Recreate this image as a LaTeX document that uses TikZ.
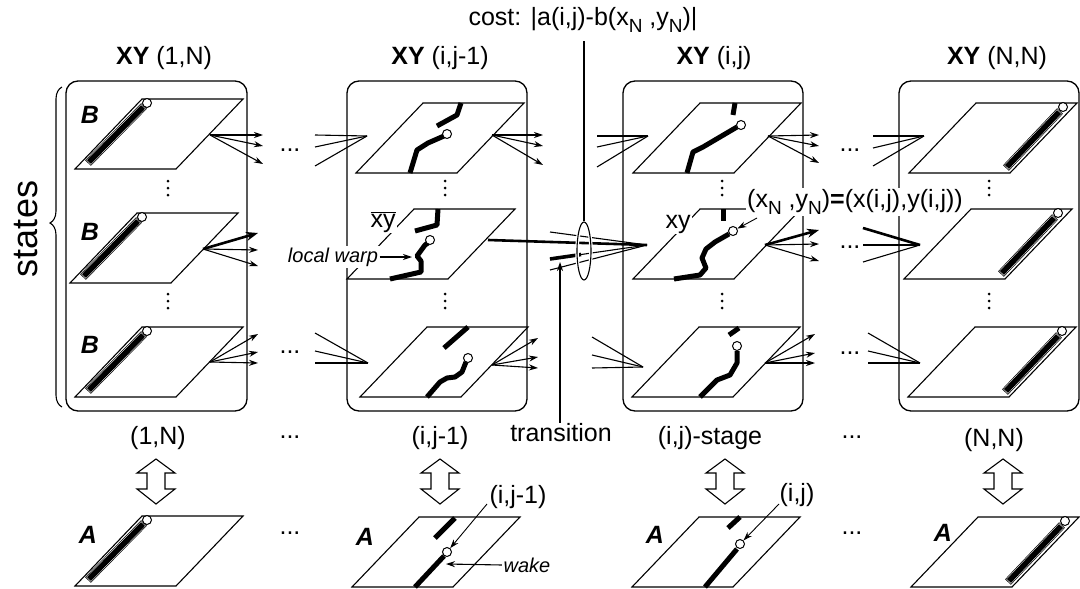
\documentclass[tikz,border=0pt]{standalone}
\usepackage{fontspec}
\setmainfont{Liberation Sans}
\usetikzlibrary{arrows.meta,decorations.pathreplacing,shapes.geometric,calc}
\newcommand\sbN{\raisebox{-0.28em}{\fontsize{19}{19}\selectfont N}}
\newcommand\plane[3]{\draw[pl] (#2,#3) coordinate (#1) -- ++(101,0) -- ++(67,-70) -- ++(-101,0) -- cycle;}
\newcommand\barline[2]{%
  \draw[line width=8pt,line cap=butt] (#1) -- (#2);
  \draw[line width=6.6pt,white,line cap=butt,shorten <=0.8pt,shorten >=0.8pt] (#1) -- (#2);
  \draw[line width=5.6pt,line cap=butt,shorten <=1.4pt,shorten >=1.4pt] (#1) -- (#2);}
\newcommand\lbar[3]{\barline{#2+13,#3-6}{#2+69,#3-63}\node[endc] (#1) at (#2+72,#3-66) {};}
\newcommand\rbar[3]{\barline{#2+97,#3-5}{#2+151,#3-62}\node[endc] (#1) at (#2+154,#3-66) {};}
\newcommand\vdts[2]{\foreach \k in {0,7,14}{\fill (#1,#2+\k) circle[radius=1.5pt];}}
\newcommand\fanout[7]{%
  \coordinate (#1o) at (#2,#3);
  \coordinate (#1a) at (#4,#5);\coordinate (#1b) at (#4,#6);\coordinate (#1c) at (#4,#7);
  \draw[fa] (#1o) -- (#1a);\draw[fa] (#1o) -- (#1b);\draw[fa] (#1o) -- (#1c);}
\newcommand\fanoutT[7]{%
  \coordinate (#1o) at (#2,#3);
  \coordinate (#1a) at (#4,#5);\coordinate (#1b) at (#4,#6);\coordinate (#1c) at (#4,#7);
  \draw[fat] (#1o) -- (#1a);\draw[fa] (#1o) -- (#1b);\draw[fa] (#1o) -- (#1c);}
\newcommand\fanin[7]{%
  \coordinate (#1o) at (#2,#3);
  \coordinate (#1a) at (#4,#5);\coordinate (#1b) at (#4,#6);\coordinate (#1c) at (#4,#7);
  \draw[fi] (#1a) -- (#1o);\draw[fi] (#1b) -- (#1o);\draw[fi] (#1c) -- (#1o);}
\newcommand\dblarrow[1]{%
  \draw[line width=1.1pt,fill=white,line join=miter] (#1,459) -- (#1+19,473) -- (#1+9,473) -- (#1+9,489) -- (#1+19,489) -- (#1,504) -- (#1-19,489) -- (#1-9,489) -- (#1-9,473) -- (#1-19,473) -- cycle;}
\begin{document}
\begin{tikzpicture}[x=1pt,y=-1pt,
  box/.style={draw,line width=1.3pt,rounded corners=12pt},
  pl/.style={draw,line width=1.1pt,fill=white,line join=miter},
  trk/.style={line width=5pt,line cap=butt,line join=round},
  endc/.style={circle,draw,fill=white,line width=1pt,minimum size=9pt,inner sep=0pt},
  fa/.style={line width=1.1pt,-{Stealth[length=9pt,width=6pt]}},
  fat/.style={line width=2.6pt,-{Stealth[length=12pt,width=9pt]}},
  fi/.style={line width=1.1pt},
  lbl/.style={font=\fontsize{25}{28}\selectfont,inner sep=1pt},
  ital/.style={font=\fontsize{20}{24}\selectfont\itshape,inner sep=1.5pt,fill=white},
  bi/.style={font=\fontsize{25}{28}\selectfont\bfseries\itshape,inner sep=1pt},
  dts/.style={font=\fontsize{25}{28}\selectfont,inner sep=0pt}]
\useasboundingbox (0,0) rectangle (1080,589);
% column boxes
\draw[box] (66,81) rectangle (247,411);
\draw[box] (347,81) rectangle (527,411);
\draw[box] (623,81) rectangle (803,411);
\draw[box] (899,81) rectangle (1079,411);
% titles
\node[lbl] (t1) at (164,58) {\textbf{XY} (1,N)};
\node[lbl] (t2) at (440,58) {\textbf{XY} (i,j-1)};
\node[lbl] (t3) at (714,58) {\textbf{XY} (i,j)};
\node[lbl] (t4) at (997,58) {\textbf{XY} (N,N)};
% brace and states
\draw[line width=1.1pt,decorate,decoration={brace,amplitude=12pt,aspect=0.575}] (62,407) -- (62,87);
\node[rotate=90,font=\fontsize{36}{40}\selectfont,inner sep=0pt] (states) at (26,229) {states};
% planes
\plane{p11}{75}{169}\plane{p12}{70}{283}\plane{p13}{75}{397}
\plane{p21}{356}{173}\plane{p22}{347}{279}\plane{p23}{360}{397}
\plane{p31}{633}{173}\plane{p32}{633}{279}\plane{p33}{632}{397}
\plane{p41}{909}{173}\plane{p42}{904}{279}\plane{p43}{908}{397}
\plane{a1}{75}{586}\plane{a2}{352}{587}\plane{a3}{632}{587}\plane{a4}{911}{587}
% bars
\lbar{c11}{75}{169}\lbar{c12}{70}{283}\lbar{c13}{75}{397}
\rbar{c41}{909}{173}\rbar{c42}{904}{279}\rbar{c43}{908}{397}
\lbar{cA1}{75}{586}\rbar{cA4}{911}{587}
% warp paths col2
\draw[trk] (437,126) -- (457,115) -- (461,103);
\draw[trk] (410,173) -- (417,150) -- (428,143) -- (444,136);
\node[endc] (c21) at (447,134) {};
\draw[trk] (415,231) -- (437,225) -- (438,209);
\draw[trk] (390,279) -- (421,272) -- (421,261) -- (417,256) -- (425,245) -- (428,243);
\node[endc] (c22) at (430,240) {};
\draw[trk] (444,348) -- (468,327);
\draw[trk] (427,397) -- (440,382) -- (447,378) -- (455,377) -- (462,372) -- (466,362);
\node[endc] (c23) at (468,358) {};
% warp paths col3
\draw[trk] (735,103) -- (733,115);
\draw[trk] (687,173) -- (693,152) -- (703,147) -- (737,127);
\node[endc] (c31) at (741,125) {};
\draw[trk] (723,209) -- (723,221);
\draw[trk] (674,279) -- (700,275) -- (706,268) -- (702,258) -- (706,249) -- (715,242) -- (729,234);
\node[endc] (c32) at (733,231) {};
\draw[trk] (729,335) -- (739,328);
\draw[trk] (700,397) -- (710,387) -- (717,380) -- (730,375) -- (737,363) -- (737,351);
\node[endc] (c33) at (737,346) {};
% A row paths
\draw[trk] (435,538) -- (455,518);
\draw[trk] (415,587) -- (444,556);
\node[endc] (cA2) at (447,552) {};
\draw[trk] (728,528) -- (740,517);
\draw[trk] (705,587) -- (737,549);
\node[endc] (cA3) at (740,544) {};
% vertical dots
\vdts{168}{181}\vdts{168}{294}
\vdts{445}{181}\vdts{445}{294}
\vdts{722}{181}\vdts{722}{294}
\vdts{989}{181}\vdts{989}{294}
% fans
\fanout{f11}{210}{135}{263}{135}{146}{164}
\fanoutT{f12}{203}{249}{258}{233}{250}{266}
\fanout{f13}{210}{362}{258}{334}{352}{363}
\fanin{g11}{367}{136}{315}{135}{147}{166}
\fanin{g13}{368}{363}{315}{333}{351}{363}
\fanout{f21}{492}{135}{543}{135}{146}{165}
\fanout{f23}{492}{365}{538}{338}{357}{368}
\fanin{g21}{648}{136}{597}{136}{147}{167}
\fanin{g23}{643}{367}{592}{337}{355}{368}
\fanout{f31}{768}{136}{819}{135}{146}{163}
\fanoutT{f32}{765}{245}{819}{230}{244}{261}
\fanout{f33}{765}{363}{815}{334}{353}{363}
\fanin{g31}{924}{136}{873}{136}{148}{166}
\fanin{g32}{920}{245}{863}{228}{245}{262}
\draw[line width=2.6pt] (g32a) -- (g32o);
\fanin{g33}{920}{363}{868}{333}{351}{363}
% transition
\coordinate (conv) at (647,245);
\coordinate (tr0) at (488,240);
\coordinate (tra) at (550,232);
\coordinate (trb) at (550,259);
\coordinate (trc) at (550,270);
\draw[line width=2.6pt] (tr0) -- (conv);
\draw[fi] (tra) -- (conv);
\draw[fi] (trb) -- (conv);
\draw[fi] (trc) -- (conv);
\draw[line width=3.6pt] (trb) -- ($(trb)!0.32!(conv)$);
\node[ellipse,draw=white,line width=3.5pt,minimum width=14pt,minimum height=58pt,inner sep=0pt] (ellw) at (584,251) {};
\node[ellipse,draw,line width=1.1pt,minimum width=14pt,minimum height=58pt,inner sep=0pt] (ell) at (584,251) {};
\node[lbl] (cost) at (583,20) {cost: |a(i,j)-b(x\sbN\ ,y\sbN)|};
\draw[fi] (ell.north) -- (ell.north |- 0,41);
\node[lbl] (trans) at (561,433) {transition};
\draw[fa] (trans.north -| 560,0) -- (560,262);
% dots
\node[dts] (d1) at (290,150) {...};
\node[dts] (d2) at (290,352) {...};
\node[dts] (d3) at (850,150) {...};
\node[dts] (d4) at (850,247) {...};
\node[dts] (d5) at (850,353) {...};
\node[dts] (d6) at (290,437) {...};
\node[dts] (d7) at (852,437) {...};
\node[dts] (d8) at (290,533) {...};
\node[dts] (d9) at (852,533) {...};
% labels
\node[bi] (B1) at (90,115) {B};
\node[bi] (B2) at (90,232) {B};
\node[bi] (B3) at (90,345) {B};
\node[bi] (A1) at (88,535) {A};
\node[bi] (A2) at (365,537) {A};
\node[bi] (A3) at (655,535) {A};
\node[bi] (A4) at (943,533) {A};
\node[lbl,fill=white] (xyb) at (383,222) {$\overline{\mbox{xy}}$};
\node[lbl,fill=white] (xy) at (678,224) {xy};
\node[ital] (lw) at (333,257) {local warp};
\draw[fa] (lw.east) -- (412,257);
\node[lbl,fill=white,inner sep=1pt] (xn) at (855,202) {(x\sbN\ ,y\sbN)\textbf{=}(x(i,j),y(i,j))};
\draw[fa,line width=0.9pt] (757,218) -- (c32);
\node[lbl] (s1) at (158,438) {(1,N)};
\node[lbl] (s2) at (440,438) {(i,j-1)};
\node[lbl] (s3) at (710,438) {(i,j)-stage};
\node[lbl] (s4) at (994,440) {(N,N)};
\dblarrow{156}\dblarrow{440}\dblarrow{725}\dblarrow{1003}
\node[lbl] (ijA) at (518,497) {(i,j-1)};
\draw[fa,line width=0.9pt] (487,504) -- (cA2);
\node[lbl] (ijB) at (797,495) {(i,j)};
\draw[fa,line width=0.9pt] (779,504) -- (cA3);
\node[ital] (wake) at (527,565) {wake};
\draw[fa] (wake.west) -- (446,564);
\end{tikzpicture}
\end{document}
